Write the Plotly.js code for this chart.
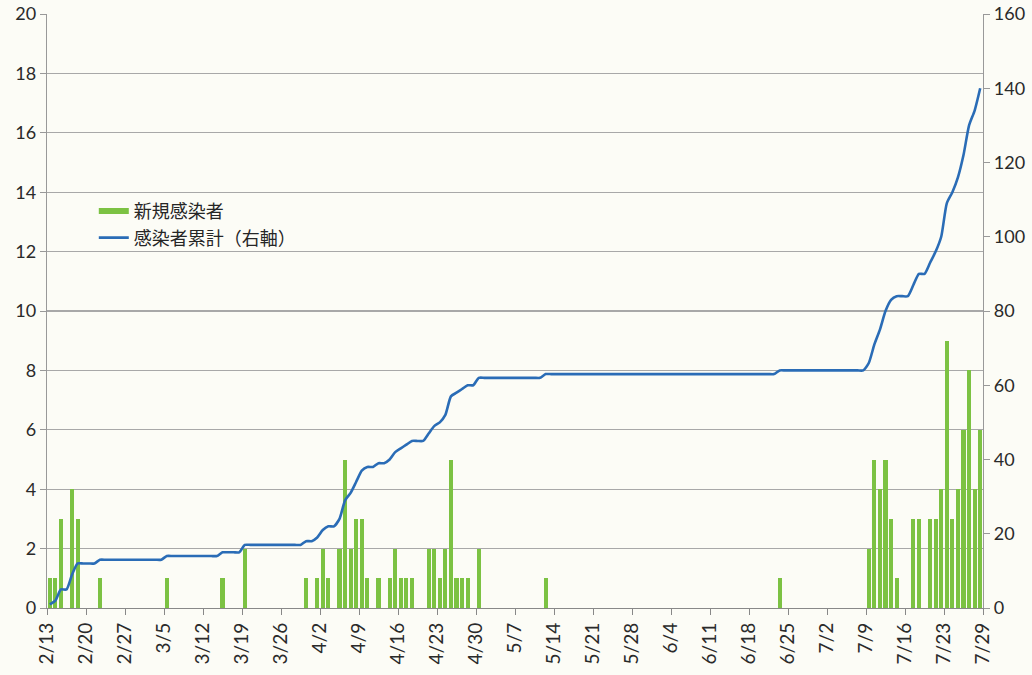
<!DOCTYPE html>
<html>
<head>
<meta charset="utf-8">
<script src="https://cdn.plot.ly/plotly-3.0.1.min.js"></script>
<style>
html,body{margin:0;padding:0;background:#fcfcf6;}
#chart{width:1032px;height:675px;}
</style>
</head>
<body>
<div id="chart"></div>
<script>
// Dates (2020-02-13 .. 2020-07-29)
const dates = [
'2020-02-13','2020-02-14','2020-02-15','2020-02-16','2020-02-17','2020-02-18','2020-02-19','2020-02-20','2020-02-21','2020-02-22','2020-02-23','2020-02-24','2020-02-25','2020-02-26','2020-02-27','2020-02-28','2020-02-29',
'2020-03-01','2020-03-02','2020-03-03','2020-03-04','2020-03-05','2020-03-06','2020-03-07','2020-03-08','2020-03-09','2020-03-10','2020-03-11','2020-03-12','2020-03-13','2020-03-14','2020-03-15','2020-03-16','2020-03-17','2020-03-18','2020-03-19','2020-03-20','2020-03-21','2020-03-22','2020-03-23','2020-03-24','2020-03-25','2020-03-26','2020-03-27','2020-03-28','2020-03-29','2020-03-30','2020-03-31',
'2020-04-01','2020-04-02','2020-04-03','2020-04-04','2020-04-05','2020-04-06','2020-04-07','2020-04-08','2020-04-09','2020-04-10','2020-04-11','2020-04-12','2020-04-13','2020-04-14','2020-04-15','2020-04-16','2020-04-17','2020-04-18','2020-04-19','2020-04-20','2020-04-21','2020-04-22','2020-04-23','2020-04-24','2020-04-25','2020-04-26','2020-04-27','2020-04-28','2020-04-29','2020-04-30',
'2020-05-01','2020-05-02','2020-05-03','2020-05-04','2020-05-05','2020-05-06','2020-05-07','2020-05-08','2020-05-09','2020-05-10','2020-05-11','2020-05-12','2020-05-13','2020-05-14','2020-05-15','2020-05-16','2020-05-17','2020-05-18','2020-05-19','2020-05-20','2020-05-21','2020-05-22','2020-05-23','2020-05-24','2020-05-25','2020-05-26','2020-05-27','2020-05-28','2020-05-29','2020-05-30','2020-05-31',
'2020-06-01','2020-06-02','2020-06-03','2020-06-04','2020-06-05','2020-06-06','2020-06-07','2020-06-08','2020-06-09','2020-06-10','2020-06-11','2020-06-12','2020-06-13','2020-06-14','2020-06-15','2020-06-16','2020-06-17','2020-06-18','2020-06-19','2020-06-20','2020-06-21','2020-06-22','2020-06-23','2020-06-24','2020-06-25','2020-06-26','2020-06-27','2020-06-28','2020-06-29','2020-06-30',
'2020-07-01','2020-07-02','2020-07-03','2020-07-04','2020-07-05','2020-07-06','2020-07-07','2020-07-08','2020-07-09','2020-07-10','2020-07-11','2020-07-12','2020-07-13','2020-07-14','2020-07-15','2020-07-16','2020-07-17','2020-07-18','2020-07-19','2020-07-20','2020-07-21','2020-07-22','2020-07-23','2020-07-24','2020-07-25','2020-07-26','2020-07-27','2020-07-28','2020-07-29'
];

// 新規感染者 (daily new cases)
const newCases = [
1,1,3,0,4,3,0,0,0,1,0,0,0,0,0,0,0,
0,0,0,0,1,0,0,0,0,0,0,0,0,0,1,0,0,0,2,0,0,0,0,0,0,0,0,0,0,1,0,
1,2,1,0,2,5,2,3,3,1,0,1,0,1,2,1,1,1,0,0,2,2,1,2,5,1,1,1,0,2,
0,0,0,0,0,0,0,0,0,0,0,1,0,0,0,0,0,0,0,0,0,0,0,0,0,0,0,0,0,0,0,
0,0,0,0,0,0,0,0,0,0,0,0,0,0,0,0,0,0,0,0,0,0,1,0,0,0,0,0,0,0,
0,0,0,0,0,0,0,0,2,5,4,5,3,1,0,0,3,3,0,3,3,4,9,3,4,6,8,4,6
];

// 感染者累計 (cumulative, right axis)
const cumulative = [
1,2,5,5,9,12,12,12,12,13,13,13,13,13,13,13,13,
13,13,13,13,14,14,14,14,14,14,14,14,14,14,15,15,15,15,17,17,17,17,17,17,17,17,17,17,17,18,18,
19,21,22,22,24,29,31,34,37,38,38,39,39,40,42,43,44,45,45,45,47,49,50,52,57,58,59,60,60,62,
62,62,62,62,62,62,62,62,62,62,62,63,63,63,63,63,63,63,63,63,63,63,63,63,63,63,63,63,63,63,63,
63,63,63,63,63,63,63,63,63,63,63,63,63,63,63,63,63,63,63,63,63,63,64,64,64,64,64,64,64,64,
64,64,64,64,64,64,64,64,66,71,75,80,83,84,84,84,87,90,90,93,96,100,109,112,116,122,130,134,140
];

// Tick labels
const tickDates = ['2020-02-13','2020-02-20','2020-02-27','2020-03-05','2020-03-12','2020-03-19','2020-03-26','2020-04-02','2020-04-09','2020-04-16','2020-04-23','2020-04-30','2020-05-07','2020-05-14','2020-05-21','2020-05-28','2020-06-04','2020-06-11','2020-06-18','2020-06-25','2020-07-02','2020-07-09','2020-07-16','2020-07-23','2020-07-30'];
const tickLabels = ['2/13','2/20','2/27','3/5','3/12','3/19','3/26','4/2','4/9','4/16','4/23','4/30','5/7','5/14','5/21','5/28','6/4','6/11','6/18','6/25','7/2','7/9','7/16','7/23','7/29'];
const leftTicks = [0,2,4,6,8,10,12,14,16,18,20];
const rightTicks = [0,20,40,60,80,100,120,140,160];

const xs = dates.map(d => d + ' 12:00');
const DAY = 86400000;
const GREEN = '#7cc243';
const BLUE = '#2a6cb6';

const font = {family: 'Lato, "Open Sans", sans-serif', size: 18, color: '#2a2a2a'};
const xfont = {family: 'Lato, "Open Sans", sans-serif', size: 19, color: '#2a2a2a'};
const legFont = {family: '"Noto Sans CJK JP", sans-serif', size: 18, color: '#262626'};

const traces = [
  {
    type: 'bar', name: '新規感染者', x: xs, y: newCases,
    width: DAY * 0.72,
    marker: {color: GREEN, line: {width: 0}},
    yaxis: 'y', showlegend: false
  },
  {
    type: 'scatter', mode: 'lines', name: '感染者累計（右軸）', x: xs, y: cumulative,
    line: {color: BLUE, width: 2.6, shape: 'spline', smoothing: 0.6},
    yaxis: 'y2', legend: 'legend2'
  },
  {
    // legend key for the bars (wide green rectangle like the reference)
    type: 'scatter', mode: 'lines', name: '新規感染者', x: [null], y: [null],
    line: {color: GREEN, width: 6}, yaxis: 'y', legend: 'legend'
  }
];

const layout = {
  width: 1032, height: 675,
  margin: {l: 47, r: 49, t: 14, b: 67},
  paper_bgcolor: '#fcfcf6', plot_bgcolor: '#fcfcf6',
  font: font,
  showlegend: true,
  legend: {
    x: 0.05, y: 0.668, xanchor: 'left', yanchor: 'middle',
    bgcolor: 'rgba(0,0,0,0)', font: legFont, itemwidth: 30
  },
  legend2: {
    x: 0.05, y: 0.623, xanchor: 'left', yanchor: 'middle',
    bgcolor: 'rgba(0,0,0,0)', font: legFont, itemwidth: 30
  },
  bargap: 0,
  xaxis: {
    type: 'date',
    range: ['2020-02-13', '2020-07-30'],
    tickmode: 'array', tickvals: tickDates, ticktext: tickLabels,
    tickangle: -90, ticks: 'outside', ticklen: 6, tickcolor: '#888',
    showline: true, linecolor: '#888', linewidth: 1.2,
    showgrid: false, zeroline: false,
    tickfont: xfont
  },
  yaxis: {
    range: [0, 20], tickmode: 'array', tickvals: leftTicks,
    ticks: 'outside', ticklen: 6, tickcolor: '#999',
    showline: true, linecolor: '#999', linewidth: 1.2,
    showgrid: true, gridcolor: '#a8a8a8', gridwidth: 1.2,
    zeroline: false, tickfont: font
  },
  yaxis2: {
    range: [0, 160], tickmode: 'array', tickvals: rightTicks,
    overlaying: 'y', side: 'right',
    ticks: 'outside', ticklen: 6, tickcolor: '#999',
    showline: true, linecolor: '#999', linewidth: 1.2,
    showgrid: false, zeroline: false, tickfont: font
  }
};

Plotly.newPlot('chart', traces, layout, {displayModeBar: false, staticPlot: true});
</script>
</body>
</html>
